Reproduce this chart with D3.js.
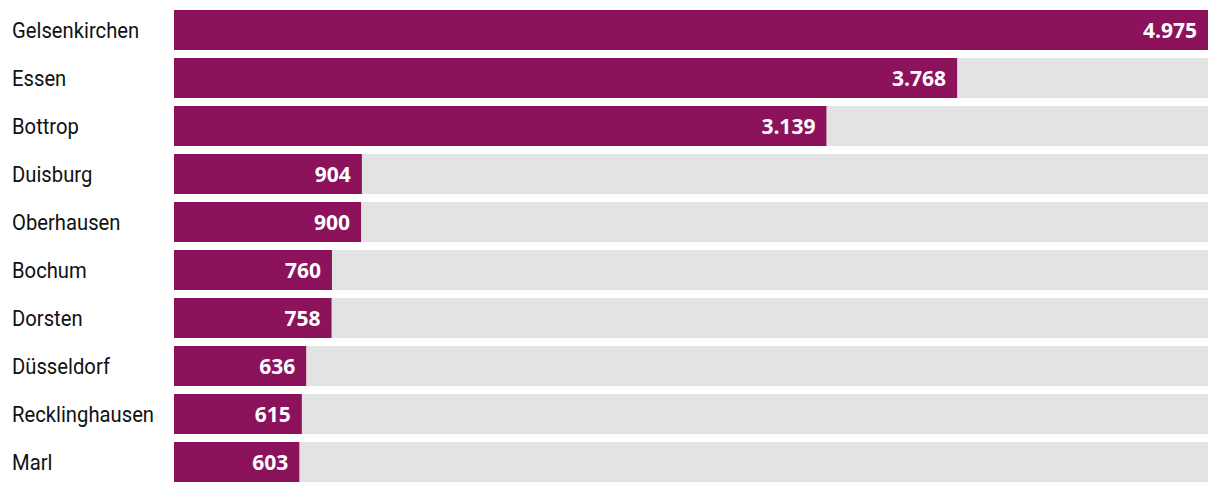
<!DOCTYPE html>
<html><head><meta charset="utf-8">
<script src="https://cdn.jsdelivr.net/npm/d3@7"></script>
<style>
html,body{margin:0;padding:0;background:#fff;}
svg{display:block;}
</style></head>
<body>
<svg id="chart" width="1220" height="492"></svg>
<script>
const cities = ["Gelsenkirchen","Essen","Bottrop","Duisburg","Oberhausen","Bochum","Dorsten","Düsseldorf","Recklinghausen","Marl"];
const values = [4975,3768,3139,904,900,760,758,636,615,603];
const labels = ["4.975","3.768","3.139","904","900","760","758","636","615","603"];

const svg = d3.select("#chart");
const x = d3.scaleLinear().domain([0, d3.max(values)]).range([174, 1208]);
const y = d3.scaleBand().domain(cities).range([10, 10 + 48*10 - 8]).paddingInner(8/48);

const g = svg.append("g");
g.selectAll("rect.bg").data(cities).join("rect").attr("class","bg")
  .attr("x", x(0)).attr("y", d => y(d)).attr("width", x(d3.max(values)) - x(0)).attr("height", y.bandwidth())
  .attr("fill", "#e3e3e3");
g.selectAll("rect.bar").data(values).join("rect").attr("class","bar")
  .attr("x", x(0)).attr("y", (d,i) => y(cities[i])).attr("width", d => x(d) - x(0)).attr("height", y.bandwidth())
  .attr("fill", "#8c125c");
g.selectAll("text.cat").data(cities).join("text").attr("class","cat")
  .attr("transform", d => `translate(12,${y(d) + y.bandwidth()/2}) scale(0.92,1)`)
  .attr("dy","0.38em")
  .attr("font-family","Roboto,sans-serif").attr("font-size", 22)
  .attr("fill","#111").text(d => d);
g.selectAll("text.val").data(values).join("text").attr("class","val")
  .attr("x", d => x(d) - 11).attr("y", (d,i) => y(cities[i]) + y.bandwidth()/2).attr("dy","0.36em")
  .attr("text-anchor","end")
  .attr("font-family","'Open Sans',sans-serif").attr("font-weight","bold").attr("font-size", 21)
  .attr("fill","#fff").text((d,i) => labels[i]);
</script>
</body></html>
